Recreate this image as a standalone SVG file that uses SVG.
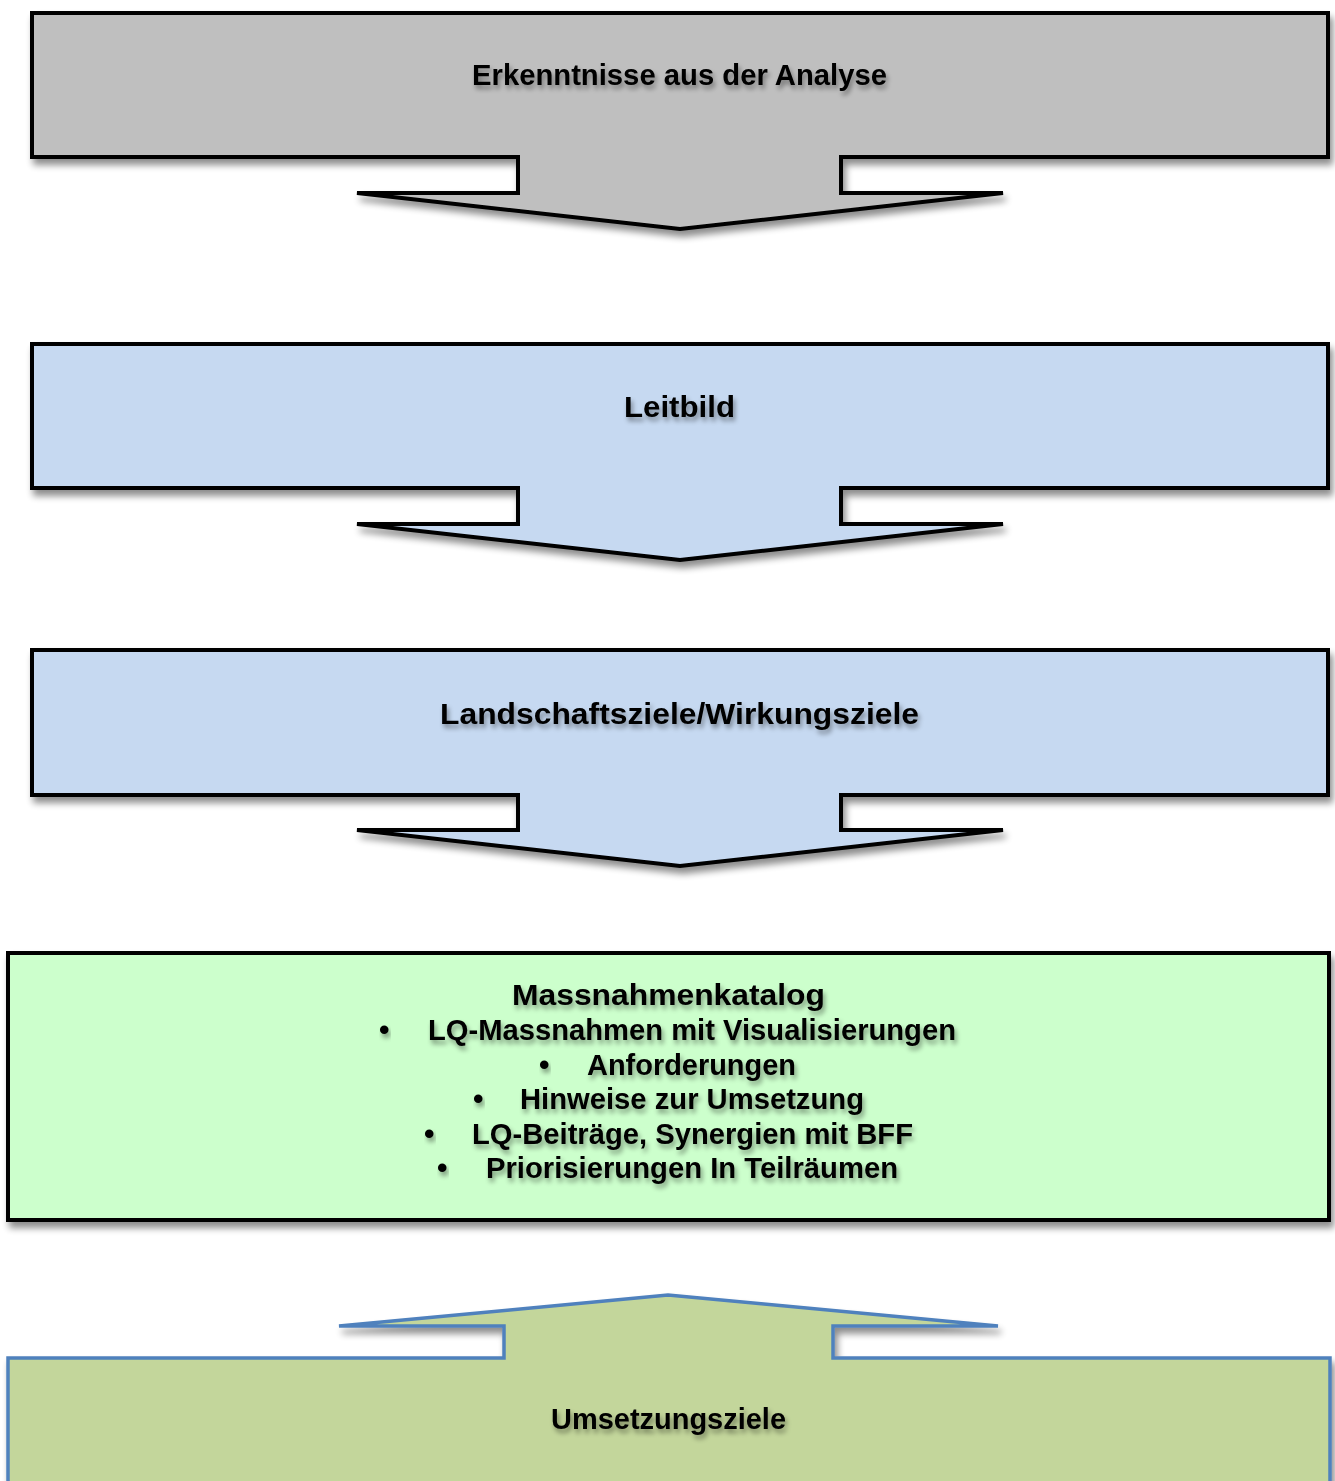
<svg xmlns="http://www.w3.org/2000/svg" width="1335" height="1481" viewBox="0 0 1335 1481">
  <defs>
    <filter id="shapeShadow" x="-5%" y="-10%" width="112%" height="130%">
      <feGaussianBlur in="SourceAlpha" stdDeviation="3.5"/>
      <feOffset dx="3" dy="6" result="b"/>
      <feComponentTransfer><feFuncA type="linear" slope="0.45"/></feComponentTransfer>
      <feMerge><feMergeNode/><feMergeNode in="SourceGraphic"/></feMerge>
    </filter>
    <filter id="textShadow" x="-10%" y="-50%" width="120%" height="200%">
      <feGaussianBlur in="SourceAlpha" stdDeviation="2.5"/>
      <feOffset dx="2" dy="4" result="b"/>
      <feComponentTransfer><feFuncA type="linear" slope="0.4"/></feComponentTransfer>
      <feMerge><feMergeNode/><feMergeNode in="SourceGraphic"/></feMerge>
    </filter>
  </defs>
  <style>
    .blk { stroke: #000000; stroke-width: 4; stroke-linejoin: miter; filter: url(#shapeShadow); }
    .gray { fill: #bfbfbf; }
    .blue { fill: #c6d9f1; }
    .green { fill: #ccffcc; }
    .olive { fill: #c3d69b; stroke: #4f81bd; stroke-width: 3.5; filter: url(#shapeShadow); }
    text { font-family: "Liberation Sans", Arial, Helvetica, sans-serif; font-weight: bold; font-size: 30px; fill: #000000; filter: url(#textShadow); }
  </style>
  <rect x="0" y="0" width="1335" height="1481" fill="#ffffff"/>

  <g id="node-analyse">
    <path class="blk gray" d="M32,13 H1328 V157 H841 V193 H1003 L680,229 L357,193 H518 V157 H32 Z"/>
    <text x="472" y="85" textLength="415" lengthAdjust="spacingAndGlyphs">Erkenntnisse aus der Analyse</text>
  </g>

  <g id="node-leitbild">
    <path class="blk blue" d="M32,344 H1328 V488 H841 V524 H1003 L680,560 L357,524 H518 V488 H32 Z"/>
    <text x="624" y="417" textLength="111" lengthAdjust="spacingAndGlyphs">Leitbild</text>
  </g>

  <g id="node-landschaftsziele">
    <path class="blk blue" d="M32,650 H1328 V795 H841 V830 H1003 L680,866 L357,830 H518 V795 H32 Z"/>
    <text x="440" y="724" textLength="479" lengthAdjust="spacingAndGlyphs">Landschaftsziele/Wirkungsziele</text>
  </g>

  <g id="node-massnahmenkatalog">
    <rect class="blk green" x="8" y="953" width="1321" height="267"/>
    <text x="512" y="1005" textLength="313" lengthAdjust="spacingAndGlyphs">Massnahmenkatalog</text>
    <text x="379" y="1040">•</text>
    <text x="428" y="1040" textLength="528" lengthAdjust="spacingAndGlyphs">LQ-Massnahmen mit Visualisierungen</text>
    <text x="539" y="1075">•</text>
    <text x="587" y="1075" textLength="209" lengthAdjust="spacingAndGlyphs">Anforderungen</text>
    <text x="473" y="1109">•</text>
    <text x="520" y="1109" textLength="344" lengthAdjust="spacingAndGlyphs">Hinweise zur Umsetzung</text>
    <text x="424" y="1144">•</text>
    <text x="472" y="1144" textLength="441" lengthAdjust="spacingAndGlyphs">LQ-Beiträge, Synergien mit BFF</text>
    <text x="437" y="1178">•</text>
    <text x="486" y="1178" textLength="412" lengthAdjust="spacingAndGlyphs">Priorisierungen In Teilräumen</text>
  </g>

  <g id="node-umsetzungsziele">
    <path class="olive" d="M8,1500 V1358 H504 V1326 H339 L668,1295 L998,1326 H833 V1358 H1330 V1500 Z"/>
    <text x="551" y="1429" textLength="235" lengthAdjust="spacingAndGlyphs">Umsetzungsziele</text>
  </g>

  <g id="connectors"/>
</svg>
